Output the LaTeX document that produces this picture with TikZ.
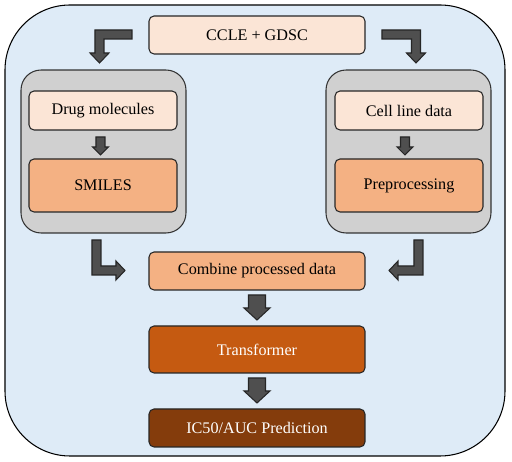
\documentclass[tikz,border=0pt]{standalone}
\usepackage{fontspec}
\setmainfont{Liberation Serif}
\definecolor{outerblue}{HTML}{DEEBF7}
\definecolor{groupgray}{HTML}{D0D0D0}
\definecolor{lightpeach}{HTML}{FBE5D6}
\definecolor{salmon}{HTML}{F4B183}
\definecolor{rust}{HTML}{C55A11}
\definecolor{darkrust}{HTML}{843C0C}
\definecolor{arrowgray}{HTML}{4F4F4F}
\tikzset{
  box/.style={draw=black!85, line width=0.6pt, rounded corners=0.1cm, minimum width=4.32cm, minimum height=0.76cm, font=\fontsize{9.2}{11}\selectfont},
  groupbox/.style={draw=black!80, fill=groupgray, line width=0.6pt, rounded corners=0.4cm, minimum width=3.3cm, minimum height=3.26cm},
  blockarrow/.style={fill=arrowgray, draw=black!85, line width=0.6pt}
}
\begin{document}
\begin{tikzpicture}[x=0.02cm, y=-0.02cm]
	\useasboundingbox (0,0) rectangle (512,462);
	% background panel
	\draw[fill=outerblue, line width=0.6pt, rounded corners=1.3cm] (5,5) rectangle (505,456);
	% source
	\node[box, fill=lightpeach] (src) at (257,35) {CCLE + GDSC};
	% two branches
	\node[groupbox] (drugs) at (103.5,151.5) {};
	\node[groupbox] (cells) at (408.5,151.5) {};
	\node[box, fill=lightpeach, minimum width=2.96cm, minimum height=0.78cm] (drug) at (103,110.5) {Drug molecules};
	\node[box, fill=salmon, minimum width=2.96cm, minimum height=1.06cm] (smiles) at (103,185.5) {SMILES};
	\node[box, fill=lightpeach, minimum width=2.96cm, minimum height=0.78cm] (cell) at (409,110.5) {Cell line data};
	\node[box, fill=salmon, minimum width=2.96cm, minimum height=1.06cm] (prep) at (409,185.5) {Preprocessing};
	% model
	\node[box, fill=salmon] (comb) at (257,271) {Combine processed data};
	\node[box, fill=rust, text=white, minimum height=0.94cm] (trans) at (257,349.5) {Transformer};
	\node[box, fill=darkrust, text=white] (pred) at (257,428) {IC50/AUC Prediction};
	% bent arrows
	\filldraw[blockarrow] (132,30) -- (95,30) -- (95,53) -- (90,53) -- (99.5,63) -- (109,53) -- (104,53) -- (104,39) -- (132,39) -- cycle;
	\filldraw[blockarrow] (382,30) -- (420.5,30) -- (420.5,53) -- (425.5,53) -- (416,63) -- (406.5,53) -- (411.5,53) -- (411.5,39) -- (382,39) -- cycle;
	\filldraw[blockarrow] (92,240) -- (92,275) -- (116,275) -- (116,280) -- (125,270.5) -- (116,261) -- (116,266) -- (101,266) -- (101,240) -- cycle;
	\filldraw[blockarrow] (423,240) -- (423,275) -- (398,275) -- (398,280) -- (389,270.5) -- (398,261) -- (398,266) -- (414,266) -- (414,240) -- cycle;
	% straight arrows
	\filldraw[blockarrow] (96,137) -- (105,137) -- (105,147) -- (108.5,147) -- (100.5,155) -- (92.5,147) -- (96,147) -- cycle;
	\filldraw[blockarrow] (400.5,137) -- (409.5,137) -- (409.5,147) -- (413,147) -- (405,155) -- (397,147) -- (400.5,147) -- cycle;
	\filldraw[blockarrow] (248.5,295) -- (265.5,295) -- (265.5,308) -- (270,308) -- (257,320) -- (244,308) -- (248.5,308) -- cycle;
	\filldraw[blockarrow] (248.5,378) -- (265.5,378) -- (265.5,391) -- (270,391) -- (257,403) -- (244,391) -- (248.5,391) -- cycle;
\end{tikzpicture}
\end{document}
